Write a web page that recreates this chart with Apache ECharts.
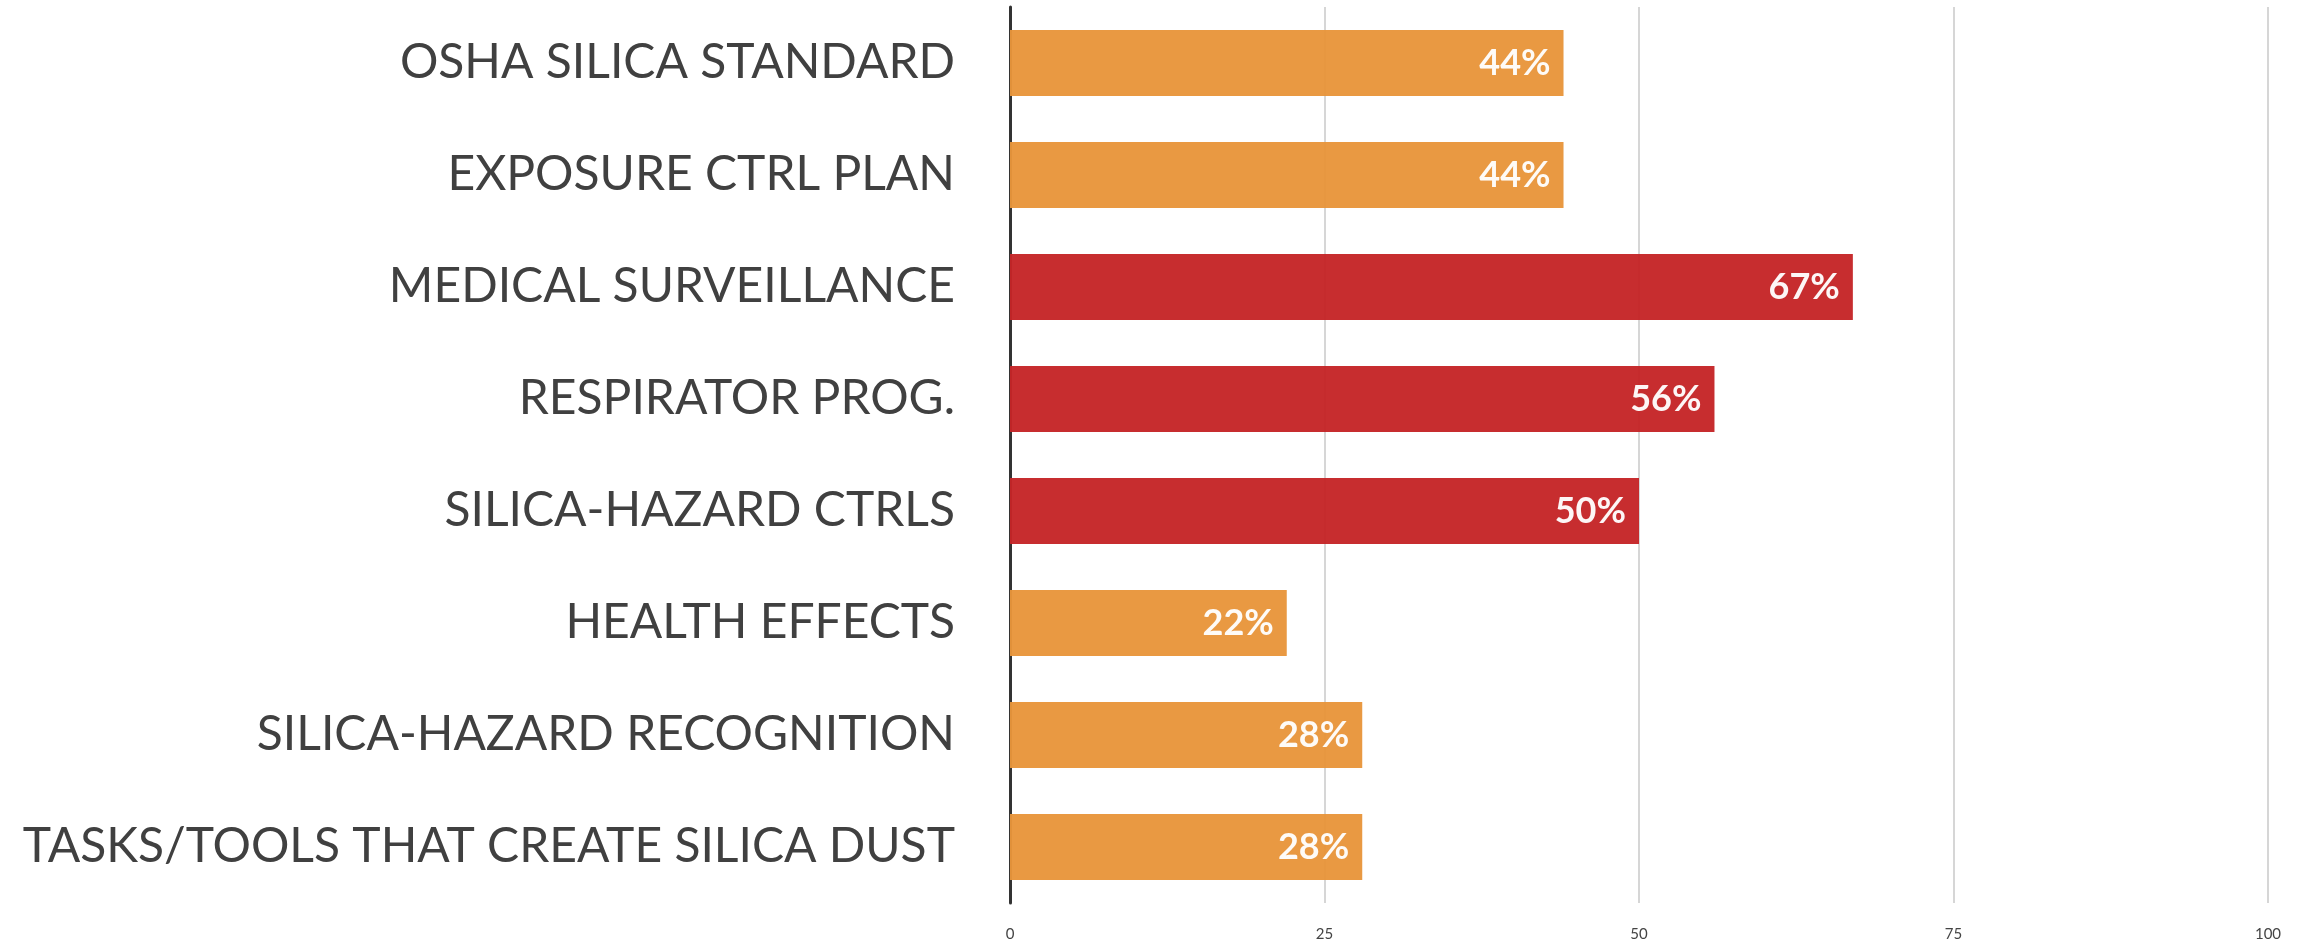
<!DOCTYPE html>
<html>
<head>
<meta charset="utf-8">
<script src="https://cdn.jsdelivr.net/npm/echarts@6/dist/echarts.min.js"></script>
<style>
  html, body { margin: 0; padding: 0; background: #fff; }
  #chart { width: 2310px; height: 948px; }
</style>
</head>
<body>
<div id="chart"></div>
<script>
// 数据
const categories = [
  'OSHA SILICA STANDARD',
  'EXPOSURE CTRL PLAN',
  'MEDICAL SURVEILLANCE',
  'RESPIRATOR PROG.',
  'SILICA-HAZARD CTRLS',
  'HEALTH EFFECTS',
  'SILICA-HAZARD RECOGNITION',
  'TASKS/TOOLS THAT CREATE SILICA DUST'
];
const values = [44, 44, 67, 56, 50, 22, 28, 28];
const highlight = [false, false, true, true, true, false, false, false];
const xTicks = [0, 25, 50, 75, 100];

const ORANGE = '#E8953A';
const RED = '#C52426';

const chart = echarts.init(document.getElementById('chart'));
const option = {
  animation: false,
  grid: {
    left: 1010,
    right: 42,
    top: 7,
    bottom: 45,
    containLabel: false
  },
  xAxis: {
    type: 'value',
    min: xTicks[0],
    max: xTicks[xTicks.length - 1],
    interval: 25,
    axisLine: { show: false },
    axisTick: { show: false },
    axisLabel: {
      color: '#444',
      fontFamily: 'Lato',
      fontSize: 15,
      margin: 24
    },
    splitLine: {
      lineStyle: { color: '#c8c8c8', width: 1.5 }
    }
  },
  yAxis: {
    type: 'category',
    inverse: true,
    data: categories,
    axisLine: {
      lineStyle: { color: '#333', width: 3 }
    },
    axisTick: { show: false },
    axisLabel: {
      color: '#404040',
      fontFamily: 'Lato',
      fontSize: 48,
      margin: 55
    }
  },
  series: [{
    type: 'bar',
    data: values.map((v, i) => ({
      value: v,
      itemStyle: { color: highlight[i] ? RED : ORANGE }
    })),
    barCategoryGap: '41%',
    itemStyle: { opacity: 0.96 },
    label: {
      show: true,
      position: 'insideRight',
      distance: 13,
      formatter: '{c}%',
      color: '#fff',
      fontFamily: 'Lato',
      fontWeight: 'bold',
      fontSize: 36
    }
  }]
};
chart.setOption(option);
</script>
</body>
</html>
